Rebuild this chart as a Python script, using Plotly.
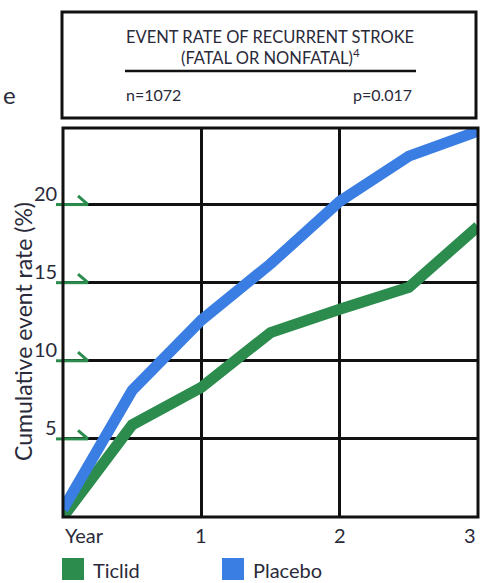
import plotly.graph_objects as go

# ---- data ----
years = [0, 0.5, 1, 1.5, 2, 2.5, 3]
ticlid = [0, 5.9, 8.3, 11.8, 13.3, 14.7, 18.6]
placebo = [0.5, 8.1, 12.6, 16.2, 20.2, 23.1, 24.7]
series_names = ["Ticlid", "Placebo"]
series_colors = ["#2b8c4e", "#3b7ee3"]
y_ticks = [5, 10, 15, 20]
x_ticks = [0, 1, 2, 3]
x_tick_labels = ["Year", "1", "2", "3"]
title_line1 = "EVENT RATE OF RECURRENT STROKE"
title_line2 = "(FATAL OR NONFATAL)<sup>4</sup>"
n_text = "n=1072"
p_text = "p=0.017"
y_title = "Cumulative event rate (%)"

W, H = 485, 583
L, R, T, B = 63, 7, 128, 66
pw, ph = W - L - R, H - T - B
FONT = "Lato"
TXT = "#2a2a3a"

def px_x(px):  # pixel x -> paper x
    return (px - L) / pw

def px_y(py):  # pixel y -> paper y
    return (H - B - py) / ph

fig = go.Figure()
for name, vals, col in zip(series_names, [ticlid, placebo], series_colors):
    fig.add_trace(go.Scatter(x=years, y=vals, mode="lines", name=name,
                             line=dict(color=col, width=11), showlegend=False,
                             cliponaxis=True, hoverinfo="skip"))

shapes = []
annotations = []

# green arrow markers at y ticks
for v in y_ticks:
    shapes.append(dict(type="line", xref="paper", yref="y", x0=px_x(56), x1=px_x(88),
                       y0=v, y1=v, line=dict(color=series_colors[0], width=3), layer="above"))
    shapes.append(dict(type="line", xref="paper", yref="y", x0=px_x(78), x1=px_x(88),
                       y0=v + 0.55, y1=v, line=dict(color=series_colors[0], width=3), layer="above"))
    annotations.append(dict(x=px_x(59), y=v, xref="paper", yref="y", text=str(v),
                            showarrow=False, xanchor="right", yanchor="middle", yshift=12,
                            font=dict(family=FONT, size=20, color=TXT)))

# x tick labels
for v, lab in zip(x_ticks, x_tick_labels):
    anchor = "left" if v == x_ticks[0] else ("right" if v == x_ticks[-1] else "center")
    annotations.append(dict(x=v, y=0, xref="x", yref="y", text=lab, showarrow=False,
                            xanchor=anchor, yanchor="top", yshift=-4,
                            font=dict(family=FONT, size=20, color=TXT)))

# y axis title
annotations.append(dict(x=px_x(23), y=px_y(332), xref="paper", yref="paper", text=y_title,
                        textangle=-90, showarrow=False, xanchor="center", yanchor="middle",
                        font=dict(family=FONT, size=23, color=TXT)))

# title box
shapes.append(dict(type="rect", xref="paper", yref="paper", x0=px_x(62), x1=px_x(476),
                   y0=px_y(118), y1=px_y(12), line=dict(color="#111", width=3)))
shapes.append(dict(type="line", xref="paper", yref="paper", x0=px_x(125), x1=px_x(416),
                   y0=px_y(71), y1=px_y(71), line=dict(color="#111", width=2.5)))
annotations.append(dict(x=px_x(270), y=px_y(37), xref="paper", yref="paper", text=title_line1,
                        showarrow=False, xanchor="center", yanchor="middle",
                        font=dict(family=FONT, size=16.5, color=TXT)))
annotations.append(dict(x=px_x(270), y=px_y(57), xref="paper", yref="paper", text=title_line2,
                        showarrow=False, xanchor="center", yanchor="middle",
                        font=dict(family=FONT, size=16.5, color=TXT)))
annotations.append(dict(x=px_x(124), y=px_y(94), xref="paper", yref="paper", text=n_text,
                        showarrow=False, xanchor="left", yanchor="middle",
                        font=dict(family=FONT, size=16, color=TXT)))
annotations.append(dict(x=px_x(414), y=px_y(94), xref="paper", yref="paper", text=p_text,
                        showarrow=False, xanchor="right", yanchor="middle",
                        font=dict(family=FONT, size=16, color=TXT)))
# stray letter from facing page
annotations.append(dict(x=px_x(1), y=px_y(95), xref="paper", yref="paper", text="e",
                        showarrow=False, xanchor="left", yanchor="middle",
                        font=dict(family=FONT, size=24, color=TXT)))

# legend (squares + labels)
leg_x = [62, 222]
for name, col, lx in zip(series_names, series_colors, leg_x):
    shapes.append(dict(type="rect", xref="paper", yref="paper", x0=px_x(lx), x1=px_x(lx + 22),
                       y0=px_y(580), y1=px_y(558), fillcolor=col, line=dict(width=0)))
    annotations.append(dict(x=px_x(lx + 29), y=px_y(570), xref="paper", yref="paper", text=name,
                            showarrow=False, xanchor="left", yanchor="middle",
                            font=dict(family=FONT, size=20, color=TXT)))

# frame
shapes.append(dict(type="rect", xref="paper", yref="paper", x0=0, x1=1, y0=0, y1=1,
                   line=dict(color="#111", width=3), layer="above"))

fig.update_layout(
    width=W, height=H,
    margin=dict(l=L, r=R, t=T, b=B),
    paper_bgcolor="white", plot_bgcolor="white",
    shapes=shapes, annotations=annotations,
    showlegend=False,
    xaxis=dict(range=[0, 3], tickvals=x_ticks, showticklabels=False, showgrid=True,
               gridcolor="#111", gridwidth=2.5, zeroline=False, showline=False, fixedrange=True),
    yaxis=dict(range=[0, 24.9], tickvals=y_ticks, showticklabels=False, showgrid=True,
               gridcolor="#111", gridwidth=2.5, zeroline=False, showline=False, fixedrange=True),
)
fig.write_html("out.html", config={"displayModeBar": False},
               post_script="document.body.style.margin='0';")
